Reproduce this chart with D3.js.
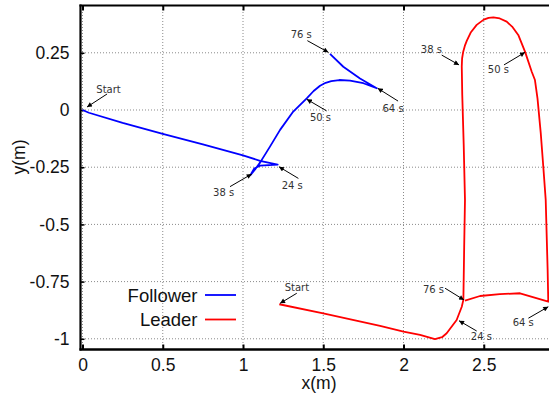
<!DOCTYPE html>
<html><head><meta charset="utf-8">
<script src="https://cdn.jsdelivr.net/npm/d3@7"></script>
<style>body{margin:0;background:#fff}svg{display:block}</style>
</head><body>
<svg id="c" width="549" height="400"></svg>
<script>
// ---- data ----
const followerX = [0, 0.04, 0.25, 0.5, 0.75, 1.0, 1.106, 1.216, 1.106, 1.07, 1.054, 1.046, 1.075, 1.106, 1.168, 1.231, 1.313, 1.397, 1.44, 1.48, 1.515, 1.55, 1.6, 1.667, 1.75, 1.833, 1.729, 1.625, 1.542];
const followerY = [0, -0.012, -0.056, -0.104, -0.150, -0.198, -0.222, -0.239, -0.243, -0.256, -0.275, -0.285, -0.260, -0.230, -0.160, -0.087, -0.007, 0.051, 0.083, 0.106, 0.119, 0.126, 0.131, 0.128, 0.117, 0.095, 0.138, 0.189, 0.245];
const leaderX = [1.226, 1.5, 1.854, 2.0, 2.103, 2.196, 2.24, 2.269, 2.331, 2.363, 2.373, 2.378, 2.383, 2.375, 2.366, 2.363, 2.365, 2.372, 2.382, 2.394, 2.42, 2.456, 2.5, 2.53, 2.56, 2.6, 2.643, 2.68, 2.715, 2.757, 2.799, 2.819, 2.835, 2.855, 2.871, 2.886, 2.898, 2.902, 2.726, 2.6, 2.477, 2.383];
const leaderY = [-0.849, -0.889, -0.944, -0.969, -0.983, -1.001, -0.993, -0.976, -0.918, -0.86, -0.83, -0.6, -0.393, -0.15, 0.066, 0.19, 0.225, 0.255, 0.28, 0.302, 0.34, 0.372, 0.395, 0.403, 0.405, 0.4, 0.386, 0.362, 0.328, 0.255, 0.167, 0.131, 0.05, -0.1, -0.248, -0.393, -0.699, -0.838, -0.801, -0.805, -0.813, -0.833];
const seriesNames = ["Follower", "Leader"];
const xTicks = [0, 0.5, 1, 1.5, 2, 2.5];
const xTickLabels = ["0", "0.5", "1", "1.5", "2", "2.5"];
const yTicks = [0.25, 0, -0.25, -0.5, -0.75, -1];
const yTickLabels = ["0.25", "0", "-0.25", "-0.5", "-0.75", "-1"];
// annotations: label, head point, tail point, label position (data units)
const annLabels = ["Start", "24 s", "38 s", "50 s", "64 s", "76 s", "Start", "24 s", "38 s", "50 s", "64 s", "76 s"];
const annHead = [[0.028,0.013],[1.224,-0.248],[1.054,-0.280],[1.397,0.047],[1.839,0.095],[1.532,0.252],
                 [1.231,-0.845],[2.346,-0.921],[2.346,0.197],[2.757,0.252],[2.902,-0.860],[2.377,-0.830]];
const annTail = [[0.153,0.070],[1.345,-0.299],[0.919,-0.335],[1.521,-0.004],[1.966,0.039],[1.401,0.303],
                 [1.335,-0.801],[2.456,-0.966],[2.238,0.240],[2.626,0.197],[2.778,-0.910],[2.259,-0.779]];
const annText = [[0.162,0.074],[1.307,-0.345],[0.879,-0.378],[1.483,-0.050],[1.935,-0.007],[1.363,0.315],
                 [1.336,-0.793],[2.485,-1.005],[2.174,0.251],[2.591,0.162],[2.746,-0.946],[2.187,-0.798]];

// ---- chart ----
const svg = d3.select("#c");
const x = d3.scaleLinear().domain([-0.0125, 2.9065]).range([80.5, 549]);
const y = d3.scaleLinear().domain([0.4567, -1.0446]).range([5.5, 349]);
const FONT = "'Liberation Sans', Arial, Helvetica, sans-serif";

// grid
const grid = svg.append("g").attr("stroke", "#8a8a8a").attr("stroke-width", 1).attr("stroke-dasharray", "1,2");
xTicks.forEach(t => grid.append("line").attr("x1", x(t)).attr("x2", x(t)).attr("y1", 6).attr("y2", 348));
yTicks.forEach(t => grid.append("line").attr("x1", 82).attr("x2", 549).attr("y1", y(t)).attr("y2", y(t)));

// axes
const xAxis = d3.axisBottom(x).tickValues(xTicks).tickFormat((d, i) => xTickLabels[i]).tickSize(-5).tickPadding(9);
const gx = svg.append("g").attr("transform", "translate(0,349.5)").call(xAxis);
gx.select(".domain").remove();
gx.selectAll(".tick line").attr("stroke", "#000").attr("stroke-width", 2);
gx.selectAll("text").attr("font-family", FONT).attr("font-size", 17.5).attr("fill", "#111");

const xTop = d3.axisTop(x).tickValues(xTicks).tickFormat("").tickSize(-5);
const gxt = svg.append("g").attr("transform", "translate(0,5.5)").call(xTop);
gxt.select(".domain").remove();
gxt.selectAll(".tick line").attr("stroke", "#000").attr("stroke-width", 2);

const yAxis = d3.axisLeft(y).tickValues(yTicks).tickFormat((d, i) => yTickLabels[i]).tickSize(-4).tickPadding(11);
const gy = svg.append("g").attr("transform", "translate(80.5,0)").call(yAxis);
gy.select(".domain").remove();
gy.selectAll(".tick line").attr("stroke", "#000").attr("stroke-width", 1.5);
gy.selectAll("text").attr("font-family", FONT).attr("font-size", 17.5).attr("fill", "#111");

// frame
svg.append("line").attr("x1", 80.5).attr("x2", 80.5).attr("y1", 4.5).attr("y2", 350.5).attr("stroke", "#000").attr("stroke-width", 2.2);
svg.append("line").attr("x1", 79.5).attr("x2", 549).attr("y1", 5.5).attr("y2", 5.5).attr("stroke", "#000").attr("stroke-width", 2.2);
svg.append("line").attr("x1", 79.5).attr("x2", 549).attr("y1", 349.5).attr("y2", 349.5).attr("stroke", "#000").attr("stroke-width", 2.4);

// axis titles
svg.append("text").attr("x", 319).attr("y", 389).attr("text-anchor", "middle")
  .attr("font-family", FONT).attr("font-size", 17.5).attr("fill", "#111").text("x(m)");
svg.append("text").attr("transform", "translate(25,157) rotate(-90)").attr("text-anchor", "middle")
  .attr("font-family", FONT).attr("font-size", 17.5).attr("fill", "#111").text("y(m)");

// series
const line = d3.line().x(d => x(d[0])).y(d => y(d[1])).curve(d3.curveLinear);
const clip = svg.append("clipPath").attr("id", "pc").append("rect").attr("x", 81).attr("y", 6).attr("width", 468).attr("height", 343);
const series = [
  {name: seriesNames[0], pts: followerX.map((v, i) => [v, followerY[i]]), color: "#0000ff"},
  {name: seriesNames[1], pts: leaderX.map((v, i) => [v, leaderY[i]]), color: "#ff0000"}
];
series.forEach(s => {
  svg.append("path").attr("d", line(s.pts)).attr("fill", "none").attr("stroke", s.color)
    .attr("stroke-width", 1.8).attr("stroke-linejoin", "round").attr("clip-path", "url(#pc)");
});

// annotations
svg.append("defs").append("marker").attr("id", "ah").attr("viewBox", "0 0 10 10").attr("refX", 10).attr("refY", 5)
  .attr("markerWidth", 6).attr("markerHeight", 5).attr("markerUnits", "userSpaceOnUse").attr("orient", "auto")
  .append("path").attr("d", "M0,0 L10,5 L0,10 z").attr("fill", "#000");
annLabels.forEach((lab, i) => {
  svg.append("line").attr("x1", x(annTail[i][0])).attr("y1", y(annTail[i][1]))
    .attr("x2", x(annHead[i][0])).attr("y2", y(annHead[i][1]))
    .attr("stroke", "#000").attr("stroke-width", 1).attr("marker-end", "url(#ah)");
  svg.append("text").attr("x", x(annText[i][0])).attr("y", y(annText[i][1])).attr("text-anchor", "middle")
    .attr("font-family", "'DejaVu Sans', sans-serif").attr("font-size", 10).attr("fill", "#333").text(lab);
});

// legend
series.forEach((s, i) => {
  const ly = 295 + i * 24.5;
  svg.append("text").attr("x", 197.5).attr("y", ly + 6.5).attr("text-anchor", "end")
    .attr("font-family", FONT).attr("font-size", 18.5).attr("fill", "#111").text(s.name);
  svg.append("line").attr("x1", 205).attr("x2", 236).attr("y1", ly).attr("y2", ly)
    .attr("stroke", s.color).attr("stroke-width", 1.8);
});
</script>
</body></html>
